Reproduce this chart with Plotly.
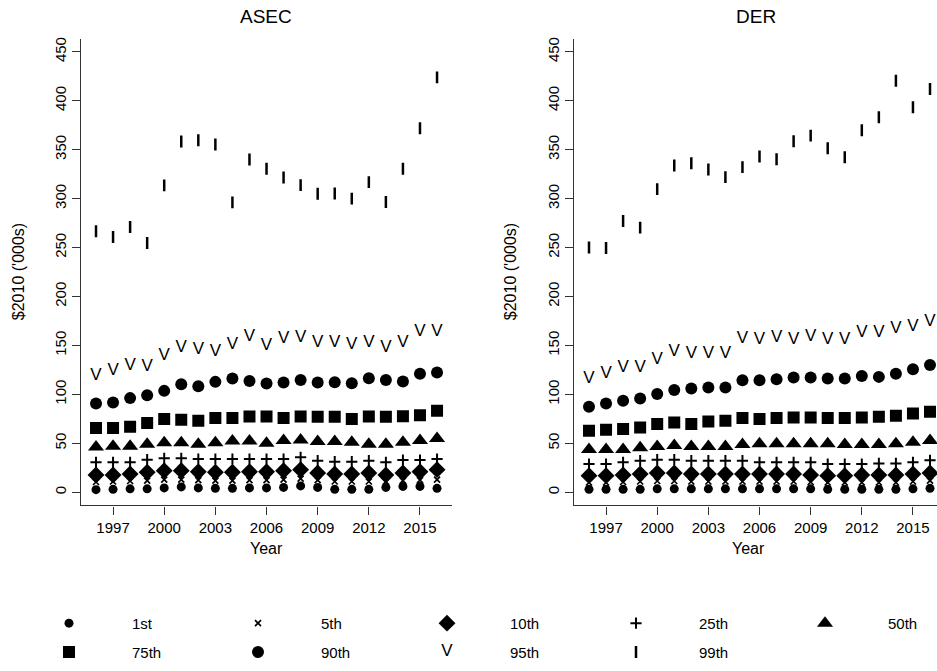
import plotly.graph_objects as go

# ---------------------------------------------------------------- data
years = list(range(1996, 2017))
pct_labels = ["1st", "5th", "10th", "25th", "50th", "75th", "90th", "95th", "99th"]

# ASEC earnings percentiles, $2010 ('000s)
asec_p1 = [2.7, 3.0, 3.5, 3.5, 4.5, 5.5, 4.5, 4.0, 4.0, 4.5, 4.5, 5.0, 6.5, 5.0, 3.0, 3.0, 3.0, 5.0, 6.0, 6.0, 4.0]
asec_p5 = [10.5, 11.0, 11.5, 12.0, 13.0, 13.0, 12.5, 12.0, 12.0, 12.5, 12.5, 13.0, 14.0, 12.5, 11.0, 11.0, 11.0, 11.0, 12.0, 12.5, 13.0]
asec_p10 = [17.7, 17.7, 18.7, 20.4, 22.1, 22.1, 21.0, 20.4, 20.4, 21.0, 21.0, 22.1, 23.1, 19.7, 18.7, 18.7, 19.7, 17.7, 19.7, 21.0, 23.1]
asec_p25 = [30.6, 30.6, 30.6, 33.3, 34.7, 34.7, 34.0, 34.0, 34.0, 34.0, 34.0, 34.0, 35.7, 32.3, 31.3, 31.3, 32.3, 30.6, 33.0, 33.0, 34.0]
asec_p50 = [46.3, 47.0, 47.0, 49.0, 50.5, 50.5, 49.0, 50.5, 52.5, 52.5, 50.0, 53.0, 53.5, 52.0, 52.0, 51.0, 49.0, 49.0, 51.0, 53.0, 55.0]
asec_p75 = [65.6, 65.6, 66.9, 70.7, 74.8, 74.1, 73.1, 75.8, 75.8, 77.4, 77.4, 75.8, 77.4, 77.1, 77.1, 74.8, 77.4, 77.1, 77.8, 78.8, 83.2]
asec_p90 = [90.7, 91.7, 96.2, 99.2, 103.6, 110.4, 108.4, 112.8, 116.2, 113.8, 111.1, 112.1, 114.8, 112.1, 112.5, 111.5, 116.6, 114.8, 113.1, 121.2, 122.3]
asec_p95 = [118.9, 124.0, 129.1, 128.4, 139.6, 148.1, 145.7, 143.3, 150.8, 159.3, 150.1, 157.3, 157.9, 153.2, 153.2, 150.8, 152.5, 147.4, 152.5, 163.7, 163.7]
asec_p99 = [266.6, 260.8, 271.0, 254.7, 313.5, 358.3, 359.7, 355.3, 296.2, 340.0, 330.5, 321.6, 313.8, 305.0, 305.3, 300.0, 316.9, 296.5, 330.5, 371.9, 423.9]

# DER earnings percentiles, $2010 ('000s)
der_p1 = [3.0, 3.0, 3.0, 3.0, 3.5, 3.5, 3.5, 3.5, 3.5, 3.5, 3.5, 3.5, 3.5, 3.5, 3.0, 3.0, 3.0, 3.0, 3.0, 3.5, 4.0]
der_p5 = [10.0, 10.0, 10.5, 11.0, 11.5, 11.5, 11.0, 11.0, 11.0, 11.0, 11.0, 11.0, 11.0, 10.5, 10.0, 10.0, 10.0, 10.0, 10.0, 11.0, 12.0]
der_p10 = [17.0, 17.0, 17.7, 18.7, 19.7, 19.7, 18.7, 18.7, 18.7, 18.7, 18.7, 18.7, 18.7, 17.7, 17.0, 17.0, 17.7, 17.7, 17.7, 18.7, 19.7]
der_p25 = [28.9, 28.9, 30.6, 32.3, 33.3, 33.3, 32.3, 32.3, 32.3, 32.3, 30.6, 30.6, 30.6, 30.6, 28.9, 28.9, 28.9, 29.5, 29.5, 30.6, 32.6]
der_p50 = [43.7, 43.7, 43.7, 45.4, 46.8, 47.8, 46.8, 46.8, 46.8, 48.8, 49.5, 49.5, 49.5, 49.5, 49.5, 48.8, 48.8, 48.8, 49.5, 51.2, 52.9]
der_p75 = [62.9, 63.9, 64.6, 66.2, 69.7, 71.3, 69.7, 72.3, 73.0, 75.8, 74.8, 75.8, 76.4, 76.4, 75.8, 75.8, 76.4, 77.1, 78.1, 80.5, 82.2]
der_p90 = [87.3, 90.7, 93.4, 95.8, 100.3, 104.6, 106.0, 107.0, 107.0, 114.5, 114.5, 115.5, 117.2, 117.2, 116.2, 116.2, 118.9, 117.9, 121.2, 125.7, 130.1]
der_p95 = [115.8, 121.2, 126.7, 126.7, 135.2, 144.0, 141.6, 141.6, 141.6, 157.3, 155.6, 158.3, 155.9, 159.3, 155.6, 155.6, 162.7, 162.7, 166.8, 169.5, 174.6]
der_p99 = [250.0, 249.6, 277.1, 270.4, 309.7, 333.9, 336.2, 329.8, 322.0, 332.2, 343.0, 340.3, 358.6, 364.4, 351.5, 342.3, 369.8, 383.1, 420.5, 393.3, 412.0]

x_ticks = [1997, 2000, 2003, 2006, 2009, 2012, 2015]
y_ticks = list(range(0, 451, 50))

asec_series = [asec_p1, asec_p5, asec_p10, asec_p25, asec_p50, asec_p75, asec_p90, asec_p95, asec_p99]
der_series = [der_p1, der_p5, der_p10, der_p25, der_p50, der_p75, der_p90, der_p95, der_p99]

# ---------------------------------------------------------------- style
W, H = 937, 671
INK = "black"
AXIS = "#333333"
FONT = "Liberation Sans, Arial, Helvetica, sans-serif"

looks = {
    "1st": dict(symbol="circle", size=9),
    "5th": dict(symbol="x-thin", size=6, line=1.7),
    "10th": dict(symbol="diamond", size=13),
    "25th": dict(symbol="cross-thin", size=8, line=2),
    "50th": dict(symbol="triangle-up", size=14),
    "75th": dict(symbol="square", size=12),
    "90th": dict(symbol="circle", size=12),
    "95th": dict(glyph="V", size=17),
    "99th": dict(symbol="line-ns", size=8.5, line=2.5),
}


def px_x(p):
    return p / W


def px_y(p):
    return 1 - p / H


def series_trace(x, y, look, xa, ya):
    if "glyph" in look:
        return go.Scatter(
            x=x, y=y, mode="text", text=[look["glyph"]] * len(x),
            textposition="middle center",
            textfont=dict(family=FONT, size=look["size"], color=INK),
            xaxis=xa, yaxis=ya, showlegend=False, hoverinfo="skip",
        )
    lw = look.get("line", 0)
    return go.Scatter(
        x=x, y=y, mode="markers",
        marker=dict(symbol=look["symbol"], size=look["size"], color=INK,
                    line=dict(width=lw, color=INK)),
        xaxis=xa, yaxis=ya, showlegend=False, hoverinfo="skip",
    )


fig = go.Figure()

for lab, vals in zip(pct_labels, asec_series):
    fig.add_trace(series_trace(years, vals, looks[lab], "x", "y"))
for lab, vals in zip(pct_labels, der_series):
    fig.add_trace(series_trace(years, vals, looks[lab], "x2", "y2"))

# legend keys: 5 columns x 2 rows laid out on a hidden helper axis
ncol = 5
key_col = [i % ncol for i in range(len(pct_labels))]
key_row = [i // ncol for i in range(len(pct_labels))]
for lab, c, r in zip(pct_labels, key_col, key_row):
    fig.add_trace(series_trace([c], [r], looks[lab], "x3", "y3"))

col_step = 189.0
key_x0 = 69.0
label_gap = 61.0

annotations = []
for lab, c, r in zip(pct_labels, key_col, key_row):
    annotations.append(dict(
        x=c + label_gap / col_step, y=r, xref="x3", yref="y3",
        text=lab, showarrow=False, xanchor="left", yanchor="middle",
        font=dict(family=FONT, size=15, color=INK),
    ))

# panel titles and axis titles
for txt, cx in (("ASEC", 266.4), ("DER", 755.5)):
    annotations.append(dict(x=px_x(cx), y=px_y(15), xref="paper", yref="paper",
                            text=txt, showarrow=False, xanchor="center", yanchor="middle",
                            font=dict(family=FONT, size=19, color=INK)))
for cx in (266.4, 748.0):
    annotations.append(dict(x=px_x(cx), y=px_y(548), xref="paper", yref="paper",
                            text="Year", showarrow=False, xanchor="center", yanchor="middle",
                            font=dict(family=FONT, size=16, color=INK)))
for cx in (18.0, 510.0):
    annotations.append(dict(x=px_x(cx), y=px_y(271), xref="paper", yref="paper",
                            text="$2010 ('000s)", textangle=-90, showarrow=False,
                            xanchor="center", yanchor="middle",
                            font=dict(family=FONT, size=16, color=INK)))

common_x = dict(tickvals=x_ticks, ticks="outside", ticklen=8, tickwidth=1.2,
                tickcolor=AXIS, showline=True, linecolor=AXIS, linewidth=1.2,
                showgrid=False, zeroline=False,
                tickfont=dict(family=FONT, size=15, color=INK))
common_y = dict(tickvals=y_ticks, ticks="outside", ticklen=8, tickwidth=1.2,
                tickcolor=AXIS, showline=True, linecolor=AXIS, linewidth=1.2,
                showgrid=False, zeroline=False, tickangle=-90,
                range=[-13.5, 463.5], domain=[px_y(505), px_y(36.7)],
                tickfont=dict(family=FONT, size=15, color=INK))

fig.update_layout(
    width=W, height=H,
    margin=dict(l=0, r=0, t=0, b=0),
    paper_bgcolor="white", plot_bgcolor="white",
    showlegend=False,
    xaxis=dict(common_x, domain=[px_x(81), px_x(451.7)], range=[1995.12, 2016.86], anchor="y"),
    yaxis=dict(common_y, anchor="x"),
    xaxis2=dict(common_x, domain=[px_x(574), 1.0], range=[1995.12, 2016.41], anchor="y2"),
    yaxis2=dict(common_y, anchor="x2"),
    xaxis3=dict(domain=[0, 1], range=[-key_x0 / col_step, (W - key_x0) / col_step],
                visible=False, anchor="y3"),
    yaxis3=dict(domain=[px_y(666.5), px_y(608.5)], range=[1.5, -0.5],
                visible=False, anchor="x3"),
    annotations=annotations,
)

fig.write_html("out.html")
